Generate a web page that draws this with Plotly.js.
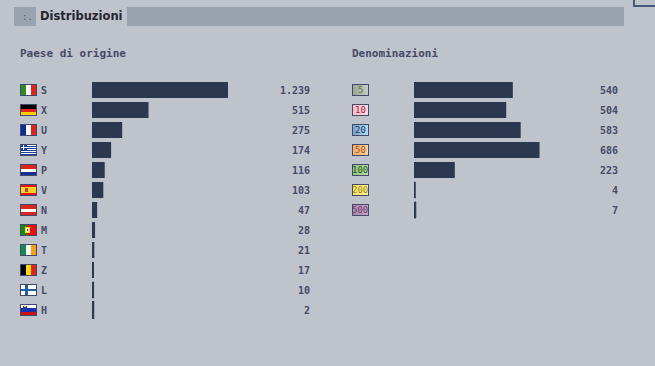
<!DOCTYPE html>
<html><head><meta charset="utf-8">
<script src="https://cdn.plot.ly/plotly-3.0.1.min.js"></script>
<style>html,body{margin:0;padding:0;background:#bfc3cb}#c{width:655px;height:366px}</style>
</head><body><div id="c"></div>
<script>
const countryCodes = ['S','X','U','Y','P','V','N','M','T','Z','L','H'];
const countryValues = [1239,515,275,174,116,103,47,28,21,17,10,2];
const countryLabels = ['1.239','515','275','174','116','103','47','28','21','17','10','2'];
const denomNames = ['5','10','20','50','100','200','500'];
const denomValues = [540,504,583,686,223,4,7];
const denomLabels = ['540','504','583','686','223','4','7'];

const W=655,H=366, BAR='#2b3850', TXT='#464a69', BORDER='#44486a';
const px=x=>x/W, py=y=>1-y/H;
const uri=s=>'data:image/svg+xml;charset=utf-8,'+encodeURIComponent(s);
const wrap=(b,w=17,h=12)=>`<svg xmlns="http://www.w3.org/2000/svg" width="${w}" height="${h}" viewBox="0 0 ${w} ${h}" shape-rendering="crispEdges">${b}<rect x="0.5" y="0.5" width="${w-1}" height="${h-1}" fill="none" stroke="${BORDER}"/></svg>`;
const r=(x,y,w,h,f)=>`<rect x="${x}" y="${y}" width="${w}" height="${h}" fill="${f}"/>`;
const vs=(a,b,c)=>r(0,0,6,12,a)+r(6,0,5,12,b)+r(11,0,6,12,c);
const hs=(a,b,c)=>r(0,0,17,5,a)+r(0,5,17,3,b)+r(0,8,17,4,c);
const flags=[
 vs('#2f8a1f','#ffffff','#e0261c'),
 r(0,0,17,5,'#000')+r(0,5,17,3,'#e0261c')+r(0,8,17,4,'#ffcc00'),
 vs('#0b2f8f','#ffffff','#e0261c'),
 r(0,0,17,12,'#fff')+r(0,2,17,1,'#1f3f9c')+r(0,4,17,1,'#1f3f9c')+r(0,6,17,1,'#1f3f9c')+r(0,8,17,1,'#1f3f9c')+r(0,10,17,1,'#1f3f9c')+r(0,0,7,6,'#1f3f9c')+r(3,0,1,6,'#fff')+r(0,3,7,1,'#fff'),
 hs('#d8261c','#ffffff','#12308f'),
 r(0,0,17,3,'#e8141c')+r(0,3,17,6,'#ffd21a')+r(0,9,17,3,'#e8141c')+r(5,4,3,4,'#b04a50'),
 hs('#d8261c','#ffffff','#d8261c'),
 r(0,0,7,12,'#128a12')+r(7,0,10,12,'#f00c0c')+r(5,3,5,6,'#ffe000')+r(6,4,3,4,'#ffffff')+r(7,5,1,2,'#c01010'),
 vs('#0f8a50','#ffffff','#f8a010'),
 vs('#000000','#ffdc10','#e0261c'),
 r(0,0,17,12,'#fff')+r(0,5,17,2,'#1f5fa0')+r(5,0,3,12,'#1f5fa0'),
 r(0,0,17,4,'#fff')+r(0,4,17,4,'#1430b0')+r(0,8,17,4,'#d01010')+r(3,2,4,4,'#1a3ca0')+r(4,2,2,1,'#ffe000')
];
const chips=[
 ['#98a38f','#c8d2c4','#666b60'],
 ['#f8b9cb','#fde0e4','#b22142'],
 ['#6f9fc8','#b6e0fa','#1f3f60'],
 ['#f4a860','#ffd89a','#a4502c'],
 ['#8cc07a','#bde0a8','#1f5a20'],
 ['#f6e05a','#fff49a','#9a8a20'],
 ['#a888a8','#c8a8c8','#6c4470']
];
const chipImg=c=>`<svg xmlns="http://www.w3.org/2000/svg" width="17" height="12" viewBox="0 0 17 12" shape-rendering="crispEdges"><defs><linearGradient id="g"><stop offset="0" stop-color="${c[0]}"/><stop offset="1" stop-color="${c[1]}"/></linearGradient></defs><rect width="17" height="12" fill="url(#g)"/><rect x="0.5" y="0.5" width="16" height="11" fill="none" stroke="${BORDER}"/></svg>`;

const idxA=countryCodes.map((_,i)=>i), idxB=denomNames.map((_,i)=>i);
const SA=136/1239, SB=0.183;
const minW=(v,s)=>Math.max(0,2-Math.round(v*s));
const barTrace=(vals,idx,names,s,xa,ya)=>({type:'bar',orientation:'h',x:vals,y:idx,xaxis:xa,yaxis:ya,width:0.8,text:names,textposition:'none',
  base:vals.map(v=>minW(v,s)/2/s),
  marker:{color:BAR,line:{color:BAR,width:vals.map(v=>minW(v,s))}},hovertemplate:'%{text}: %{x}<extra></extra>'});
const traces=[
 barTrace(countryValues,idxA,countryCodes,SA,'x','y'),
 barTrace(denomValues,idxB,denomNames,SB,'x2','y2')
];
const ann=(x,yref,y,text,opt={})=>Object.assign({xref:'paper',yref,x:px(x),y,text,showarrow:false,xanchor:'left',yanchor:'middle',
  xshift:0,borderpad:0,font:{family:'"DejaVu Sans Mono",monospace',size:10,color:TXT,weight:700}},opt);
const annotations=[
 {xref:'paper',yref:'paper',x:px(39),y:py(16.5),text:'Distribuzioni',showarrow:false,xanchor:'left',yanchor:'middle',borderpad:0,font:{family:'"DejaVu Sans",sans-serif',size:11.5,color:'#26262e',weight:700}},
 {xref:'paper',yref:'paper',x:px(27),y:py(17),text:':.',showarrow:false,xanchor:'center',yanchor:'middle',borderpad:0,font:{family:'"DejaVu Sans Mono",monospace',size:9,color:'#555a68'}},
 {xref:'paper',yref:'paper',x:px(19),y:py(53),text:'Paese di origine',showarrow:false,xanchor:'left',yanchor:'middle',borderpad:0,font:{family:'"DejaVu Sans Mono",monospace',size:11,color:TXT,weight:700}},
 {xref:'paper',yref:'paper',x:px(351),y:py(53),text:'Denominazioni',showarrow:false,xanchor:'left',yanchor:'middle',borderpad:0,font:{family:'"DejaVu Sans Mono",monospace',size:11,color:TXT,weight:700}}
];
countryCodes.forEach((c,i)=>{
 annotations.push(ann(40,'y',i,c));
 annotations.push(ann(311,'y',i,countryLabels[i],{xanchor:'right'}));
});
denomNames.forEach((c,i)=>{
 annotations.push(ann(360.5,'y2',i,c,{xanchor:'center',font:{family:'"DejaVu Sans Mono",monospace',size:9,color:chips[i][2]}}));
 annotations.push(ann(619,'y2',i,denomLabels[i],{xanchor:'right'}));
});
const img=(src,x,yref,y)=>({source:uri(src),xref:'paper',yref,x:px(x),y,sizex:px(17),sizey:0.6,xanchor:'left',yanchor:'middle',sizing:'stretch',layer:'above'});
const images=[
 ...flags.map((b,i)=>img(wrap(b),20,'y',i)),
 ...chips.map((c,i)=>img(chipImg(c),352,'y2',i))
];
const rect=(x0,y0,x1,y1,fill,line)=>({type:'rect',xref:'paper',yref:'paper',x0:px(x0),x1:px(x1),y0:py(y0),y1:py(y1),fillcolor:fill,line:line||{width:0},layer:'below'});
const shapes=[
 rect(14,7,36,26,'#9ba2af'),
 rect(127,7,624,26,'#9ba2af'),
 rect(634,-3,657,6,'#bfc3cb',{color:'#45597e',width:2})
];
const layout={width:W,height:H,autosize:false,margin:{l:0,r:0,t:0,b:0,pad:0},paper_bgcolor:'#bfc3cb',plot_bgcolor:'rgba(0,0,0,0)',showlegend:false,bargap:0.2,
 xaxis:{domain:[px(92),px(310)],range:[0,218/SA],visible:false,fixedrange:true},
 yaxis:{domain:[py(320),py(80)],range:[11.5,-0.5],visible:false,fixedrange:true,anchor:'x'},
 xaxis2:{domain:[px(414),px(618)],range:[0,204/SB],visible:false,fixedrange:true,anchor:'y2'},
 yaxis2:{domain:[py(220),py(80)],range:[6.5,-0.5],visible:false,fixedrange:true,anchor:'x2'},
 annotations,images,shapes};
Plotly.newPlot('c',traces,layout,{displayModeBar:false});
</script></body></html>
